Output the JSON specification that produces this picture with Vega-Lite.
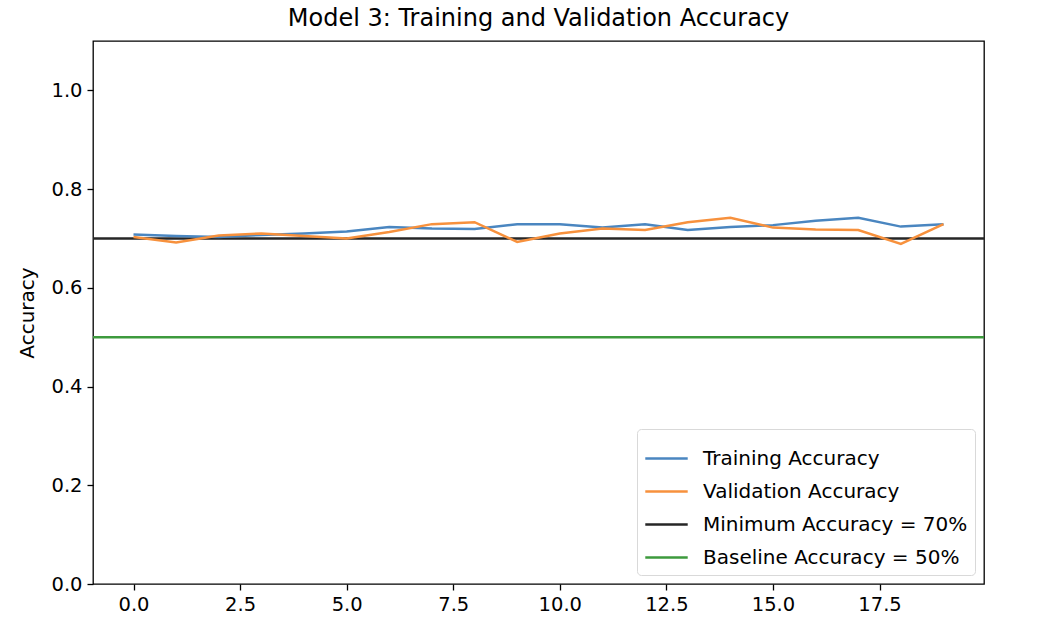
{
  "$schema": "https://vega.github.io/schema/vega-lite/v6.json",
  "width": 891,
  "height": 543,
  "autosize": "none",
  "padding": {"left": 93, "top": 41, "right": 70, "bottom": 48},
  "background": "white",
  "title": {"text": "Model 3: Training and Validation Accuracy", "fontSize": 24, "font": "DejaVu Sans", "fontWeight": "normal", "color": "#000000", "offset": 10},
  "config": {
    "font": "DejaVu Sans",
    "view": {"stroke": "#000000", "strokeWidth": 1.3},
    "axis": {"labelFont": "DejaVu Sans", "labelFontSize": 19.5, "labelColor": "#000000", "tickColor": "#000000", "tickSize": 6, "tickWidth": 1.3, "domain": false, "grid": false, "labelPadding": 5, "titleFont": "DejaVu Sans", "titleFontSize": 20, "titleFontWeight": "normal", "titleColor": "#000000"},
    "legend": {"labelFont": "DejaVu Sans", "labelFontSize": 20, "labelColor": "#000000"}
  },
  "datasets": {
    "curves": [
      {"epoch": 0, "series": "Training Accuracy", "acc": 0.708},
      {"epoch": 1, "series": "Training Accuracy", "acc": 0.705},
      {"epoch": 2, "series": "Training Accuracy", "acc": 0.703},
      {"epoch": 3, "series": "Training Accuracy", "acc": 0.707},
      {"epoch": 4, "series": "Training Accuracy", "acc": 0.710},
      {"epoch": 5, "series": "Training Accuracy", "acc": 0.714},
      {"epoch": 6, "series": "Training Accuracy", "acc": 0.723},
      {"epoch": 7, "series": "Training Accuracy", "acc": 0.720},
      {"epoch": 8, "series": "Training Accuracy", "acc": 0.719},
      {"epoch": 9, "series": "Training Accuracy", "acc": 0.729},
      {"epoch": 10, "series": "Training Accuracy", "acc": 0.729},
      {"epoch": 11, "series": "Training Accuracy", "acc": 0.722},
      {"epoch": 12, "series": "Training Accuracy", "acc": 0.729},
      {"epoch": 13, "series": "Training Accuracy", "acc": 0.717},
      {"epoch": 14, "series": "Training Accuracy", "acc": 0.723},
      {"epoch": 15, "series": "Training Accuracy", "acc": 0.727},
      {"epoch": 16, "series": "Training Accuracy", "acc": 0.736},
      {"epoch": 17, "series": "Training Accuracy", "acc": 0.742},
      {"epoch": 18, "series": "Training Accuracy", "acc": 0.724},
      {"epoch": 19, "series": "Training Accuracy", "acc": 0.729},
      {"epoch": 0, "series": "Validation Accuracy", "acc": 0.703},
      {"epoch": 1, "series": "Validation Accuracy", "acc": 0.692},
      {"epoch": 2, "series": "Validation Accuracy", "acc": 0.706},
      {"epoch": 3, "series": "Validation Accuracy", "acc": 0.710},
      {"epoch": 4, "series": "Validation Accuracy", "acc": 0.705},
      {"epoch": 5, "series": "Validation Accuracy", "acc": 0.700},
      {"epoch": 6, "series": "Validation Accuracy", "acc": 0.713},
      {"epoch": 7, "series": "Validation Accuracy", "acc": 0.729},
      {"epoch": 8, "series": "Validation Accuracy", "acc": 0.733},
      {"epoch": 9, "series": "Validation Accuracy", "acc": 0.693},
      {"epoch": 10, "series": "Validation Accuracy", "acc": 0.710},
      {"epoch": 11, "series": "Validation Accuracy", "acc": 0.720},
      {"epoch": 12, "series": "Validation Accuracy", "acc": 0.717},
      {"epoch": 13, "series": "Validation Accuracy", "acc": 0.733},
      {"epoch": 14, "series": "Validation Accuracy", "acc": 0.742},
      {"epoch": 15, "series": "Validation Accuracy", "acc": 0.722},
      {"epoch": 16, "series": "Validation Accuracy", "acc": 0.718},
      {"epoch": 17, "series": "Validation Accuracy", "acc": 0.717},
      {"epoch": 18, "series": "Validation Accuracy", "acc": 0.689},
      {"epoch": 19, "series": "Validation Accuracy", "acc": 0.729}
    ],
    "thresholds": [
      {"series": "Minimum Accuracy = 70%", "acc": 0.7},
      {"series": "Baseline Accuracy = 50%", "acc": 0.5}
    ]
  },
  "layer": [
    {
      "data": {"name": "thresholds"},
      "mark": {"type": "rule", "strokeWidth": 2.5},
      "encoding": {
        "y": {"field": "acc", "type": "quantitative", "scale": {"domain": [0, 1.1], "nice": false, "zero": false}},
        "color": {"field": "series", "type": "nominal"}
      }
    },
    {
      "data": {"name": "curves"},
      "mark": {"type": "line", "strokeWidth": 2.5, "clip": true},
      "encoding": {
        "x": {"field": "epoch", "type": "quantitative", "scale": {"domain": [-0.95, 19.95], "nice": false, "zero": false},
              "axis": {"title": null, "values": [0, 2.5, 5, 7.5, 10, 12.5, 15, 17.5], "format": ".1f"}},
        "y": {"field": "acc", "type": "quantitative", "scale": {"domain": [0, 1.1], "nice": false, "zero": false},
              "axis": {"title": "Accuracy", "values": [0, 0.2, 0.4, 0.6, 0.8, 1.0], "format": ".1f", "titlePadding": 13}},
        "color": {
          "field": "series", "type": "nominal",
          "scale": {"domain": ["Training Accuracy", "Validation Accuracy", "Minimum Accuracy = 70%", "Baseline Accuracy = 50%"],
                    "range": ["#4a86c0", "#f7913d", "#262626", "#3d9a3d"]},
          "legend": {"title": null, "orient": "bottom-right", "offset": 9, "symbolType": "M-1,0H1", "symbolSize": 1800, "symbolStrokeWidth": 2.5,
                     "rowPadding": 0, "padding": 7, "labelOffset": 14, "labelLimit": 0, "fillColor": "#ffffff", "strokeColor": "#d9d9d9", "cornerRadius": 4}
        }
      }
    }
  ]
}
